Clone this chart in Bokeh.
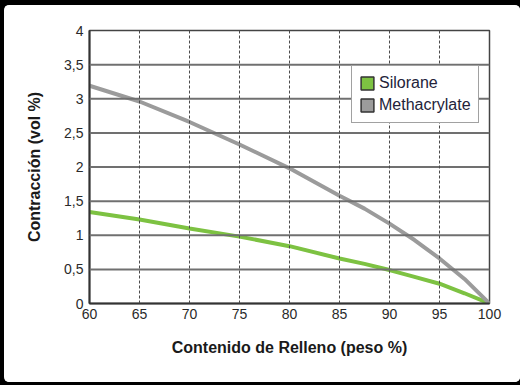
from bokeh.plotting import figure
from bokeh.models import Range1d, FixedTicker, Legend, LegendItem, Span
from bokeh.embed import file_html
from bokeh.resources import INLINE

# Data
filler = [60, 65, 70, 75, 80, 85, 87.5, 90, 92.5, 95, 97.5, 100]
silorane = [1.34, 1.23, 1.10, 0.98, 0.84, 0.66, 0.58, 0.49, 0.39, 0.29, 0.15, 0.0]
methacrylate = [3.19, 2.96, 2.66, 2.33, 1.98, 1.58, 1.39, 1.17, 0.93, 0.66, 0.36, 0.0]

x_ticks = [60, 65, 70, 75, 80, 85, 90, 95, 100]
y_ticks = [0, 0.5, 1, 1.5, 2, 2.5, 3, 3.5, 4]
y_tick_labels = ["0", "0,5", "1", "1,5", "2", "2,5", "3", "3,5", "4"]
x_grid = [65, 70, 75, 80, 85, 90, 95]
y_grid = [0.5, 1, 1.5, 2, 2.5, 3, 3.5]

series_names = ["Silorane", "Methacrylate"]
series_colors = ["#7dc242", "#9b9b9b"]

x_title = "Contenido de Relleno (peso %)"
y_title = "Contracción (vol %)"

FONT = "Liberation Sans"
NAN = float("nan")

p = figure(
    width=516, height=377,
    x_range=Range1d(60, 100), y_range=Range1d(0, 4),
    output_backend="svg", toolbar_location=None,
    min_border_left=85, min_border_right=31,
    min_border_top=25, min_border_bottom=79,
    background_fill_color="white", border_fill_color="white",
    styles={"margin": "5px 0px 0px 4px",
            "box-shadow": "0 0 0 14px black",
            "border-radius": "5px",
            "overflow": "hidden"},
)

p.xgrid.visible = False
p.ygrid.visible = False

for gy in y_grid:
    p.add_layout(Span(location=gy, dimension="width", line_color="#707070", line_width=2))
for gx in x_grid:
    p.add_layout(Span(location=gx, dimension="height", line_color="#4a4a4a",
                      line_width=1, line_dash="3 2"))

p.outline_line_color = "#444444"
p.outline_line_width = 1.5

# Axes
for ax in (p.xaxis[0], p.yaxis[0]):
    ax.axis_line_color = "#333333"
    ax.axis_line_width = 2
    ax.major_tick_out = 0
    ax.major_tick_in = 0
    ax.minor_tick_out = 0
    ax.minor_tick_in = 0
    ax.major_label_text_font = FONT
    ax.major_label_text_font_size = "14px"
    ax.major_label_text_color = "#2a2a2a"
    ax.axis_label_text_font = FONT
    ax.axis_label_text_font_size = "16px"
    ax.axis_label_text_font_style = "bold"
    ax.axis_label_text_color = "#1a1a1a"

p.xaxis.ticker = FixedTicker(ticks=x_ticks)
p.yaxis.ticker = FixedTicker(ticks=y_ticks)
p.yaxis.major_label_overrides = {t: l for t, l in zip(y_ticks, y_tick_labels)}
p.xaxis.axis_label = x_title
p.yaxis.axis_label = y_title
p.xaxis.major_label_standoff = 5
p.yaxis.major_label_standoff = 6
p.xaxis.axis_label_standoff = 17
p.yaxis.axis_label_standoff = 18

# Lines
p.line(filler, silorane, line_color=series_colors[0], line_width=4)
p.line(filler, methacrylate, line_color=series_colors[1], line_width=4)

# Legend swatches (quads with NaN rows draw nothing on the plot)
items = []
for name, col in zip(series_names, series_colors):
    r = p.quad(left=[NAN], right=[NAN], top=[NAN], bottom=[NAN], fill_color=col,
               line_color="#333333", line_width=1.5)
    items.append(LegendItem(label=name, renderers=[r]))

legend = Legend(items=items, location=(262, 180), margin=0,
                padding=7, spacing=2, glyph_width=16, glyph_height=16,
                label_height=20, label_standoff=4,
                label_text_font=FONT, label_text_font_size="16px",
                label_text_color="#23233a",
                border_line_color="#444444", border_line_width=1.5,
                background_fill_color="white", background_fill_alpha=1)
p.add_layout(legend, "center")

open("out.html", "w").write(file_html(p, INLINE))
